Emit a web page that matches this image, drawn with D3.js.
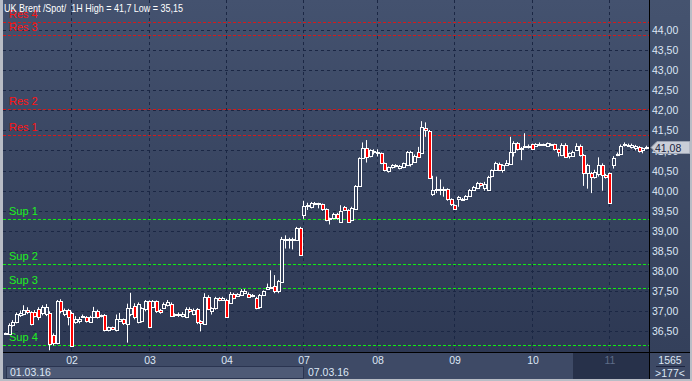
<!DOCTYPE html>
<html><head><meta charset="utf-8">
<script src="https://cdn.jsdelivr.net/npm/d3@7"></script>
<style>
html,body{margin:0;padding:0;background:#3b4764;overflow:hidden}
svg{display:block}
text{font-family:"Liberation Sans",Arial,sans-serif}
</style>
</head><body>
<svg id="chart" width="692" height="381"></svg>
<script>
// ---------------- DATA ----------------
const title = "UK Brent /Spot/  1H High = 41,7 Low = 35,15";
const open = [36.44,36.45,36.66,36.72,36.92,36.94,37.04,36.99,36.99,37.05,36.95,36.93,36.96,36.40,36.20,37.25,36.92,37.03,
 36.96,36.74,36.74,36.86,36.86,36.74,36.86,37.01,36.89,36.90,36.53,36.60,36.53,36.78,36.80,36.69,36.92,37.13,36.73,36.74,37.05,
 37.25,37.11,37.25,37.04,37.08,37.15,37.19,36.93,36.90,36.89,36.86,37.05,36.93,37.05,36.75,36.69,37.36,36.99,37.07,37.32,37.28,
 37.28,37.22,37.44,37.38,37.42,37.45,37.44,37.37,37.33,37.09,37.40,37.57,37.59,37.63,37.50,37.74,38.81,38.80,38.79,38.78,
 39.08,39.40,39.62,39.60,39.67,39.67,39.66,39.54,39.29,39.31,39.42,39.22,39.60,39.52,39.27,39.56,40.12,40.81,41.05,40.85,
 40.97,40.95,40.93,40.68,40.47,40.60,40.61,40.58,40.58,40.64,40.66,40.72,40.97,40.95,41.55,41.49,39.92,40.04,40.04,40.03,
 40.03,39.79,39.64,39.79,39.79,39.79,39.87,40.02,40.06,40.18,40.06,40.03,40.35,40.51,40.66,40.51,40.64,40.68,40.97,41.19,
 41.03,41.09,41.09,41.15,41.11,41.14,41.14,41.11,41.14,41.15,41.03,40.89,41.14,40.85,40.86,41.01,41.11,40.89,40.43,40.43,
 40.35,40.41,40.64,40.39,40.43,40.64,40.90,40.91,41.13,41.13,41.09,41.07,41.09,40.99,41.05];
const high = [36.47,36.70,36.78,36.97,37.02,37.15,37.10,37.00,37.03,37.10,37.15,37.18,37.00,36.45,37.28,37.30,37.07,37.06,
 36.99,36.88,36.86,36.92,36.88,36.89,37.11,37.04,36.92,36.93,36.62,36.62,36.92,36.96,36.82,37.19,37.46,37.20,37.22,37.10,37.28,
 37.27,37.28,37.27,37.06,37.22,37.28,37.22,36.95,36.97,36.98,37.10,37.10,37.07,37.08,36.78,37.45,37.40,37.10,37.36,37.35,37.36,
 37.31,37.48,37.46,37.45,37.55,37.55,37.47,37.43,37.36,37.43,37.52,37.69,38.02,37.90,37.78,38.85,38.89,38.83,38.83,39.10,
 39.10,39.75,39.70,39.72,39.72,39.70,39.68,39.56,39.33,39.45,39.45,39.64,39.62,39.54,39.60,40.14,40.83,41.20,41.26,41.03,
 41.03,41.03,40.95,40.70,40.60,40.66,40.66,40.64,40.70,40.99,40.99,40.90,41.09,41.73,41.70,41.51,40.37,40.35,40.28,40.10,
 40.06,39.81,39.66,39.87,39.82,39.89,40.04,40.12,40.22,40.20,40.22,40.37,40.53,40.72,40.70,40.66,40.76,41.34,41.23,41.21,
 41.09,41.43,41.15,41.17,41.18,41.20,41.17,41.20,41.18,41.17,41.05,41.18,41.18,40.95,41.00,41.18,41.15,40.91,40.67,40.47,
 40.52,40.83,40.68,40.42,40.45,40.86,40.95,41.15,41.20,41.17,41.17,41.14,41.11,41.08,41.12];
const low = [36.42,36.43,36.62,36.70,36.86,36.90,36.93,36.65,36.85,36.78,36.90,36.88,36.03,36.15,36.18,36.95,36.88,36.65,
 36.12,36.69,36.70,36.84,36.72,36.72,36.84,36.82,36.85,36.50,36.50,36.53,36.50,36.76,36.66,36.22,36.88,36.80,36.70,36.72,37.00,
 36.58,37.08,36.96,36.94,37.06,37.12,36.86,36.86,36.86,36.85,36.83,36.96,36.90,36.68,36.50,36.66,37.03,36.92,37.04,37.25,37.26,
 36.84,37.20,37.30,37.36,37.40,37.43,37.35,37.35,37.05,37.06,37.38,37.55,37.56,37.45,37.45,37.72,38.56,38.56,38.54,38.75,
 38.40,39.30,39.52,39.56,39.64,39.56,39.50,39.24,39.16,39.29,39.28,39.20,39.50,39.20,39.24,39.54,40.10,40.79,40.70,40.83,
 40.90,40.85,40.66,40.48,40.45,40.55,40.58,40.53,40.56,40.62,40.60,40.70,40.83,40.92,41.34,40.30,39.87,39.94,39.89,39.85,
 39.75,39.62,39.52,39.60,39.77,39.77,39.85,40.00,40.04,40.10,40.00,40.01,40.33,40.49,40.49,40.45,40.62,40.66,40.85,41.00,
 40.76,41.07,41.05,41.01,41.09,41.11,41.12,41.09,41.12,41.00,40.85,40.86,40.83,40.80,40.84,40.99,40.85,40.12,40.05,39.94,
 40.30,40.35,40.00,40.30,39.67,40.55,40.86,40.89,41.10,41.10,41.05,41.00,40.95,40.93,41.03];
const close = [36.45,36.67,36.74,36.93,36.96,37.04,36.98,36.68,36.90,36.84,37.11,37.11,36.20,36.20,37.25,36.99,37.03,36.86,
 36.13,36.82,36.80,36.89,36.75,36.86,37.00,36.86,36.90,36.53,36.60,36.56,36.80,36.82,36.69,37.08,37.07,36.86,37.19,37.07,37.25,
 36.60,37.25,36.99,36.98,37.18,37.22,36.89,36.90,36.93,36.93,37.05,36.99,37.04,36.72,36.69,37.36,37.07,37.07,37.32,37.28,37.33,
 36.86,37.44,37.33,37.42,37.51,37.51,37.37,37.40,37.09,37.40,37.50,37.61,37.61,37.50,37.75,38.81,38.78,38.81,38.81,39.08,
 38.41,39.62,39.64,39.70,39.69,39.69,39.54,39.27,39.31,39.42,39.31,39.50,39.52,39.23,39.56,40.12,40.81,41.05,40.83,41.01,
 40.99,40.97,40.68,40.51,40.58,40.64,40.63,40.62,40.68,40.97,40.97,40.86,40.85,41.59,41.49,40.33,40.02,40.03,40.03,40.04,
 39.77,39.66,39.54,39.85,39.80,39.87,40.02,40.10,40.18,40.12,40.17,40.35,40.51,40.68,40.51,40.64,40.70,40.97,41.19,41.03,
 41.05,41.11,41.10,41.03,41.15,41.15,41.15,41.18,41.15,41.03,40.95,41.14,40.85,40.93,40.97,41.11,40.89,40.43,40.64,40.33,
 40.47,40.64,40.39,40.33,39.69,40.81,40.91,41.11,41.15,41.14,41.13,41.11,40.99,41.05,41.08];
const dayLabels = ["02","03","04","07","08","09","10","11"];
const dayStart = [18,39,60,81,101,122,143,164];
const weekLabels = ["01.03.16","07.03.16"];
const weekStart = [0,81];
const priceTicks = [36.5,37,37.5,38,38.5,39,39.5,40,40.5,41,41.5,42,42.5,43,43.5,44];
const resNames = ["Res 1","Res 2","Res 3","Res 4"];
const resValues = [41.38,42.02,43.87,44.20];
const supNames = ["Sup 1","Sup 2","Sup 3","Sup 4"];
const supValues = [39.30,38.18,37.57,36.17];
const lastPrice = 41.08;
const barCountText = "1565";
const visibleText = ">177<";

// ---------------- LAYOUT ----------------
const W = 692, H = 381;
const pL = 3, pR = 649, pT = 0, pB = 352;
const svg = d3.select("#chart");
const fmt = v => d3.format(".2f")(v).replace(".", ",");

const defs = svg.append("defs");
const g1 = defs.append("linearGradient").attr("id","bg").attr("x1",0).attr("y1",0).attr("x2",0).attr("y2",1);
g1.append("stop").attr("offset","0%").attr("stop-color","#44526f");
g1.append("stop").attr("offset","100%").attr("stop-color","#2d3853");
const g2 = defs.append("linearGradient").attr("id","ax").attr("x1",0).attr("y1",0).attr("x2",0).attr("y2",1);
g2.append("stop").attr("offset","0%").attr("stop-color","#45536f");
g2.append("stop").attr("offset","100%").attr("stop-color","#34405b");

svg.append("rect").attr("width",W).attr("height",H).attr("fill","#3d4965");
svg.append("rect").attr("x",pL).attr("y",pT).attr("width",pR-pL).attr("height",pB-pT).attr("fill","url(#bg)");
svg.append("rect").attr("x",pR).attr("y",0).attr("width",W-pR).attr("height",pB).attr("fill","url(#ax)");

const N = open.length;
const x = d3.scaleLinear().domain([0, N-1]).range([5, 646]);
const y = d3.scaleLinear().domain([40, 44]).range([190.7, 29.9]);

// grid
const grid = svg.append("g");
grid.selectAll("line.h").data(priceTicks).join("line").attr("class","h")
  .attr("x1",pL).attr("x2",pR)
  .attr("y1",d=>Math.round(y(d))+0.5).attr("y2",d=>Math.round(y(d))+0.5)
  .attr("stroke","#1b2744").attr("stroke-dasharray","3,3");
grid.selectAll("line.v").data(dayStart).join("line").attr("class","v")
  .attr("x1",d=>Math.round(x(d))+0.5).attr("x2",d=>Math.round(x(d))+0.5)
  .attr("y1",pT).attr("y2",pB)
  .attr("stroke","#1b2744").attr("stroke-dasharray","3,3");

// levels
const lv = svg.append("g");
function levels(names, vals, col, lineCol){
  const gg = lv.append("g");
  gg.selectAll("line").data(vals).join("line")
    .attr("x1",pL).attr("x2",pR)
    .attr("y1",d=>Math.round(y(d))+0.5).attr("y2",d=>Math.round(y(d))+0.5)
    .attr("stroke",lineCol).attr("stroke-width",1).attr("stroke-dasharray","3,2");
  gg.selectAll("text").data(vals).join("text")
    .attr("x",9).attr("y",d=>Math.round(y(d))-4)
    .attr("fill",col).attr("font-size","11px")
    .text((d,i)=>names[i]);
}
levels(resNames,resValues,"#ff1414","#d41a1a");
levels(supNames,supValues,"#1ff01f","#10ee10");

// candles
const cg = svg.append("g");
const idx = d3.range(N);
const cx = i => Math.round(x(i));
cg.selectAll("line").data(idx).join("line")
  .attr("x1",i=>cx(i)+0.5).attr("x2",i=>cx(i)+0.5)
  .attr("y1",i=>y(high[i])).attr("y2",i=>y(low[i]))
  .attr("stroke","#ffffff").attr("stroke-width",1);
cg.selectAll("rect").data(idx).join("rect")
  .attr("x",i=>cx(i)-1+0.5)
  .attr("width",3)
  .attr("y",i=>Math.round(y(Math.max(open[i],close[i])))+0.5)
  .attr("height",i=>Math.max(1,Math.round(Math.abs(y(open[i])-y(close[i])))))
  .attr("fill",i=>close[i]<open[i]?"#ff0000":"#34405c")
  .attr("stroke","#ffffff").attr("stroke-width",1);

// title
svg.append("text").attr("x",4).attr("y",12).attr("fill","#ffffff")
  .attr("font-size","11px").attr("textLength",179).attr("lengthAdjust","spacingAndGlyphs")
  .style("white-space","pre").text(title);

// right axis
svg.append("g").selectAll("text").data(priceTicks).join("text")
  .attr("x",652).attr("y",d=>y(d)+4)
  .attr("fill","#dde7f5").attr("font-size","10.5px").text(d=>fmt(d));

// last price tag
const ly = Math.round(y(lastPrice))+0.5;
svg.append("path")
  .attr("d",`M651,${ly} L657,${ly-6} L690,${ly-6} L690,${ly+6} L657,${ly+6} Z`)
  .attr("fill","#c9ced8").attr("stroke","#9aa2b2");
svg.append("text").attr("x",655).attr("y",ly+4).attr("fill","#1b2440")
  .attr("font-size","10.5px").text(fmt(lastPrice));

// bottom axis
svg.append("rect").attr("x",0).attr("y",pB).attr("width",W).attr("height",H-pB).attr("fill","#3e4a66");
const curX = cx(dayStart[dayStart.length-1]) - 36;
svg.append("rect").attr("x",curX).attr("y",pB).attr("width",pR-curX).attr("height",H-pB-2).attr("fill","#27314a");
svg.append("rect").attr("x",6.5).attr("y",366.5).attr("width",cx(weekStart[1])-6).attr("height",12).attr("fill","#4e5a76").attr("stroke","#2a3450").attr("stroke-width",1);
svg.append("g").selectAll("text").data(weekLabels).join("text")
  .attr("x",(d,i)=>i===0?10:cx(weekStart[i])+5).attr("y",376)
  .attr("fill","#dde7f5").attr("font-size","10.5px").text(d=>d);
svg.append("g").selectAll("text").data(dayLabels).join("text")
  .attr("x",(d,i)=>cx(dayStart[i])+1).attr("y",364).attr("text-anchor","middle")
  .attr("fill",(d,i)=>i===dayLabels.length-1?"#5f6c88":"#dde7f5").attr("font-size","10.5px").text(d=>d);

// corner box
svg.append("text").attr("x",670).attr("y",364).attr("text-anchor","middle").attr("fill","#dde7f5").attr("font-size","10.5px").text(barCountText);
svg.append("line").attr("x1",656).attr("x2",685).attr("y1",366.5).attr("y2",366.5).attr("stroke","#1d2540");
svg.append("text").attr("x",670).attr("y",377).attr("text-anchor","middle").attr("fill","#dde7f5").attr("font-size","10.5px").text(visibleText);

// separators
svg.append("line").attr("x1",pL).attr("x2",W).attr("y1",pB+0.5).attr("y2",pB+0.5).attr("stroke","#000000");
svg.append("line").attr("x1",pR+0.5).attr("x2",pR+0.5).attr("y1",0).attr("y2",H).attr("stroke","#000000");

// outer frame
svg.append("rect").attr("x",0).attr("y",0).attr("width",3).attr("height",H).attr("fill","#b9bdc6");
svg.append("rect").attr("x",0).attr("y",H-2).attr("width",W).attr("height",2).attr("fill","#b9bdc6");
svg.append("rect").attr("x",W-2).attr("y",0).attr("width",2).attr("height",H).attr("fill","#b9bdc6");
</script>
</body></html>
